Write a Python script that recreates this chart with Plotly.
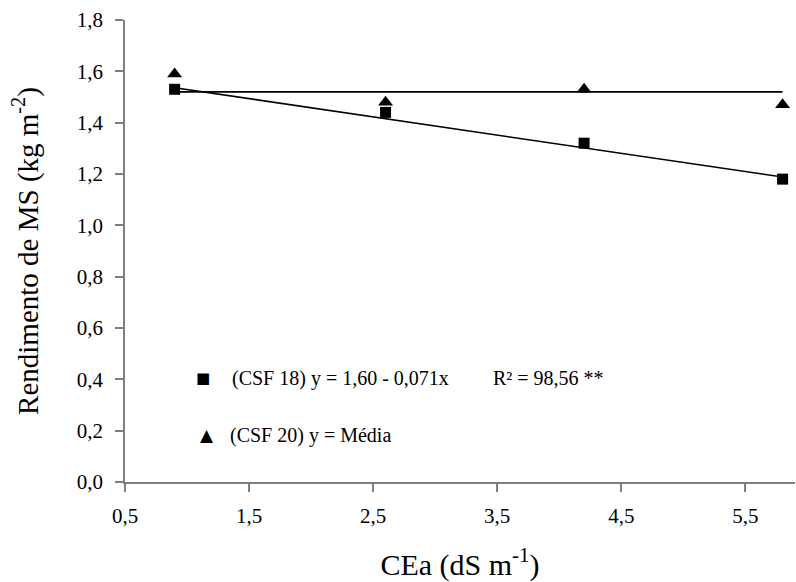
import plotly.graph_objects as go

# Salinity of irrigation water (dS m-1) and dry-matter yield (kg m-2)
cea = [0.9, 2.6, 4.2, 5.8]
csf18 = [1.53, 1.44, 1.32, 1.18]
csf20 = [1.59, 1.48, 1.53, 1.47]

# Fitted models
b0, b1 = 1.60, -0.071
media20 = 1.52

x_ticks = [0.5, 1.5, 2.5, 3.5, 4.5, 5.5]
x_tick_text = ["0,5", "1,5", "2,5", "3,5", "4,5", "5,5"]
y_ticks = [0.0, 0.2, 0.4, 0.6, 0.8, 1.0, 1.2, 1.4, 1.6, 1.8]
y_tick_text = ["0,0", "0,2", "0,4", "0,6", "0,8", "1,0", "1,2", "1,4", "1,6", "1,8"]

FONT = "Times New Roman, serif"
AXIS = "#7f7f7f"

fit_x = [cea[0], cea[-1]]
fit_y = [b0 + b1 * v for v in fit_x]

fig = go.Figure()
fig.add_trace(go.Scatter(x=fit_x, y=fit_y, mode="lines",
                         line=dict(color="black", width=1.6), showlegend=False))
fig.add_trace(go.Scatter(x=fit_x, y=[media20, media20], mode="lines",
                         line=dict(color="black", width=1.6), showlegend=False))
fig.add_trace(go.Scatter(x=cea, y=csf18, mode="markers",
                         marker=dict(symbol="square", size=11, color="black"),
                         showlegend=False))
fig.add_trace(go.Scatter(x=cea, y=csf20, mode="markers",
                         marker=dict(symbol="triangle-up", size=13, color="black"),
                         showlegend=False))

# Key rows written as annotations
key = [
    (1.13, 0.404, "■", 15, 1.345, "(CSF 18) y = 1,60 - 0,071x"),
    (1.16, 0.182, "▲", 17, 1.33, "(CSF 20) y = Média"),
]
for mx, my, sym, ssize, tx, txt in key:
    fig.add_annotation(x=mx, y=my, xref="x", yref="y", text=sym, showarrow=False,
                       font=dict(family="DejaVu Sans", size=ssize, color="black"))
    fig.add_annotation(x=tx, y=my, xref="x", yref="y", text=txt, showarrow=False,
                       xanchor="left", font=dict(family=FONT, size=20, color="black"))
fig.add_annotation(x=3.45, y=0.404, xref="x", yref="y", text="R² = 98,56 **",
                   showarrow=False, xanchor="left",
                   font=dict(family=FONT, size=20, color="black"))

fig.update_layout(
    width=796, height=582,
    margin=dict(l=125, r=1, t=20, b=100),
    paper_bgcolor="white", plot_bgcolor="white",
    font=dict(family=FONT, size=20, color="black"),
    showlegend=False,
)
fig.update_xaxes(
    range=[0.5, 5.9], tickvals=x_ticks, ticktext=x_tick_text,
    showgrid=False, zeroline=False, showline=True, linecolor=AXIS, linewidth=1.5,
    ticks="outside", ticklen=8, tickcolor=AXIS, tickwidth=1.5,
    tickfont=dict(family=FONT, size=21), ticklabelstandoff=6,
    title=dict(text="CEa (dS m<sup>-1</sup>)", font=dict(family=FONT, size=30), standoff=28),
)
fig.update_yaxes(
    range=[0, 1.8], tickvals=y_ticks, ticktext=y_tick_text,
    showgrid=False, zeroline=False, showline=True, linecolor=AXIS, linewidth=1.5,
    ticks="outside", ticklen=8, tickcolor=AXIS, tickwidth=1.5,
    tickfont=dict(family=FONT, size=21), ticklabelstandoff=8,
    title=dict(text="Rendimento de MS (kg m<sup>-2</sup>)", font=dict(family=FONT, size=29), standoff=30),
)

fig.write_html("out.html")
